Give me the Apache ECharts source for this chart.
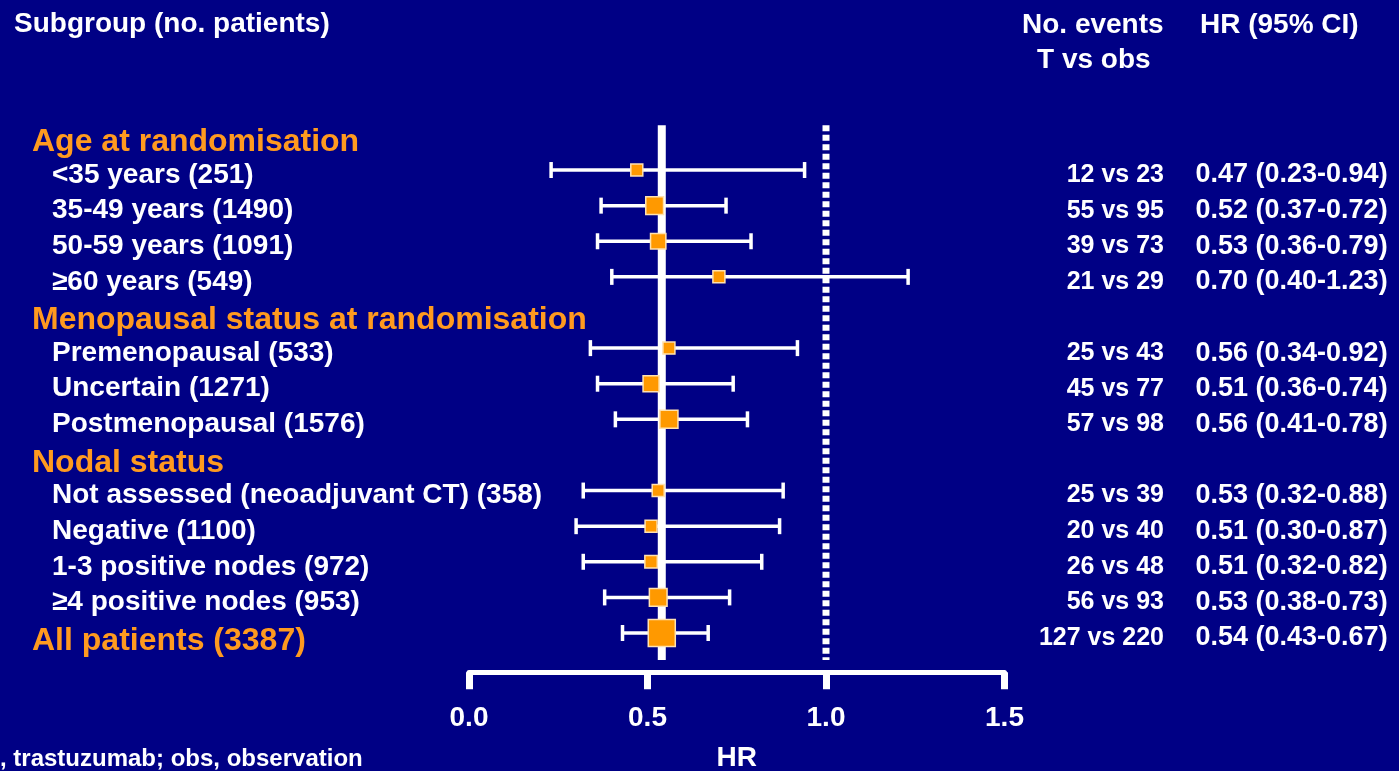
<!DOCTYPE html>
<html>
<head>
<meta charset="utf-8">
<title>Subgroup analysis — hazard ratios</title>
<script src="https://cdn.jsdelivr.net/npm/echarts@6/dist/echarts.min.js"></script>
<style>
  html, body { margin: 0; padding: 0; background: #000085; }
  #chart { width: 1399px; height: 771px; }
</style>
</head>
<body>
<div id="chart"></div>
<script>
// ---- data -----------------------------------------------------------
// One entry per row, top to bottom. Group headings carry no estimate.
const subgroups = [
  'Age at randomisation',
  '<35 years (251)',
  '35-49 years (1490)',
  '50-59 years (1091)',
  '\u226560 years (549)',
  'Menopausal status at randomisation',
  'Premenopausal (533)',
  'Uncertain (1271)',
  'Postmenopausal (1576)',
  'Nodal status',
  'Not assessed (neoadjuvant CT) (358)',
  'Negative (1100)',
  '1-3 positive nodes (972)',
  '\u22654 positive nodes (953)',
  'All patients (3387)'
];
const rowKind = ['group', 'item', 'item', 'item', 'item', 'group', 'item', 'item', 'item',
                 'group', 'item', 'item', 'item', 'item', 'total'];
const hazardRatio = [null, 0.47, 0.52, 0.53, 0.70, null, 0.56, 0.51, 0.56, null, 0.53, 0.51, 0.51, 0.53, 0.54];
const ciLower     = [null, 0.23, 0.37, 0.36, 0.40, null, 0.34, 0.36, 0.41, null, 0.32, 0.30, 0.32, 0.38, 0.43];
const ciUpper     = [null, 0.94, 0.72, 0.79, 1.23, null, 0.92, 0.74, 0.78, null, 0.88, 0.87, 0.82, 0.73, 0.67];
const eventsT     = [null, 12, 55, 39, 21, null, 25, 45, 57, null, 25, 20, 26, 56, 127];
const eventsObs   = [null, 23, 95, 73, 29, null, 43, 77, 98, null, 39, 40, 48, 93, 220];
const hrTicks     = [0, 0.5, 1.0, 1.5];
const overallRow  = 14;      // "All patients" row supplies the solid reference line
const nullEffect  = 1.0;     // no-difference line

// ---- styling ---------------------------------------------------------
const FONT = "'Liberation Sans', Arial, Helvetica, sans-serif";
const BG = '#000085';
const WHITE = '#ffffff';
const ORANGE = '#ff9a1f';
const BOX_FILL = '#ff9900';
const BOX_EDGE = '#ffe2b0';

const rows = subgroups.map((_, i) => i);
const estRows = rows.filter(i => hazardRatio[i] != null);
const fmt2 = v => v.toFixed(2);

// Box side grows with the number of events in the subgroup
const boxSize = i => Math.max(12, 1.45 * Math.sqrt(eventsT[i] + eventsObs[i]));

const yRange = { min: -1, max: 15.1 };
const baseY = {
  type: 'value', inverse: true, min: yRange.min, max: yRange.max, interval: 1,
  axisLine: { show: false }, axisTick: { show: false }, splitLine: { show: false }
};

const chart = echarts.init(document.getElementById('chart'));

const option = {
  backgroundColor: BG,
  animation: false,
  grid: { left: 469, right: 394.5, top: 98.8, bottom: 98.8, containLabel: false, outerBoundsMode: 'none' },
  xAxis: {
    type: 'value', min: hrTicks[0], max: hrTicks[hrTicks.length - 1], interval: 0.5,
    position: 'bottom',
    axisLine: { show: true, onZero: false, lineStyle: { color: WHITE, width: 5 } },
    axisTick: { show: true, inside: false, length: 17, lineStyle: { color: WHITE, width: 7 } },
    splitLine: { show: false },
    axisLabel: {
      color: WHITE, fontFamily: FONT, fontWeight: 'bold', fontSize: 28, margin: 32,
      formatter: v => v.toFixed(1)
    },
    name: 'HR', nameLocation: 'middle', nameGap: 72,
    nameTextStyle: { color: WHITE, fontFamily: FONT, fontWeight: 'bold', fontSize: 28 }
  },
  yAxis: [
    // subgroup names on the left
    Object.assign({}, baseY, {
      position: 'left',
      axisLabel: {
        align: 'left', margin: 437,
        formatter: v => {
          const lab = subgroups[v];
          if (lab == null) return '';
          return rowKind[v] === 'item' ? '{i|' + lab + '}' : '{g|' + lab + '}';
        },
        rich: {
          g: { color: ORANGE, fontFamily: FONT, fontWeight: 'bold', fontSize: 32, padding: [16, 0, 0, 0] },
          i: { color: WHITE, fontFamily: FONT, fontWeight: 'bold', fontSize: 28, padding: [10, 0, 0, 20] }
        }
      }
    }),
    // number of events, trastuzumab vs observation
    Object.assign({}, baseY, {
      position: 'right',
      axisLabel: {
        align: 'right', margin: 159.5,
        formatter: v => (eventsT[v] != null ? '{e|' + eventsT[v] + ' vs ' + eventsObs[v] + '}' : ''),
        rich: {
          e: { color: WHITE, fontFamily: FONT, fontWeight: 'bold', fontSize: 25, padding: [10, 0, 0, 0] }
        }
      }
    }),
    // HR with 95% CI
    Object.assign({}, baseY, {
      position: 'right',
      axisLabel: {
        align: 'left', margin: 191,
        formatter: v => (hazardRatio[v] != null
          ? '{h|' + fmt2(hazardRatio[v]) + ' (' + fmt2(ciLower[v]) + '-' + fmt2(ciUpper[v]) + ')}' : ''),
        rich: {
          h: { color: WHITE, fontFamily: FONT, fontWeight: 'bold', fontSize: 27, padding: [10, 0, 0, 0] }
        }
      }
    })
  ],
  series: [
    {
      // confidence-interval whiskers with end caps
      type: 'custom',
      name: '95% CI',
      yAxisIndex: 0,
      data: estRows.map(i => [ciLower[i], ciUpper[i], i]),
      renderItem: (params, api) => {
        const a = api.coord([api.value(0), api.value(2)]);
        const b = api.coord([api.value(1), api.value(2)]);
        const cap = 8;
        const st = { stroke: WHITE, lineWidth: 3.5 };
        return {
          type: 'group',
          children: [
            { type: 'line', shape: { x1: a[0], y1: a[1], x2: b[0], y2: b[1] }, style: st },
            { type: 'line', shape: { x1: a[0], y1: a[1] - cap, x2: a[0], y2: a[1] + cap }, style: st },
            { type: 'line', shape: { x1: b[0], y1: b[1] - cap, x2: b[0], y2: b[1] + cap }, style: st }
          ]
        };
      },
      z: 2
    },
    {
      // overall hazard ratio
      type: 'line',
      name: 'Overall HR',
      yAxisIndex: 0,
      data: [[hazardRatio[overallRow], -0.26], [hazardRatio[overallRow], 14.76]],
      symbol: 'none',
      lineStyle: { color: WHITE, width: 8 },
      z: 3
    },
    {
      // HR = 1 (no difference)
      type: 'line',
      name: 'No effect',
      yAxisIndex: 0,
      data: [[nullEffect, -0.26], [nullEffect, 14.76]],
      symbol: 'none',
      lineStyle: { color: WHITE, width: 7, type: [6, 3.5] },
      z: 3
    },
    {
      // point estimates
      type: 'scatter',
      name: 'HR',
      yAxisIndex: 0,
      data: estRows.map(i => [hazardRatio[i], i]),
      symbol: 'rect',
      symbolSize: (val) => boxSize(val[1]),
      itemStyle: { color: BOX_FILL, borderColor: BOX_EDGE, borderWidth: 1.5, opacity: 1 },
      z: 5
    }
  ],
  graphic: [
    { type: 'text', left: 14, top: 10,
      style: { text: 'Subgroup (no. patients)', fill: WHITE, font: 'bold 28px ' + FONT } },
    { type: 'text', left: 1022, top: 11,
      style: { text: 'No. events', fill: WHITE, font: 'bold 28px ' + FONT } },
    { type: 'text', left: 1037, top: 46,
      style: { text: 'T vs obs', fill: WHITE, font: 'bold 28px ' + FONT } },
    { type: 'text', left: 1200, top: 11,
      style: { text: 'HR (95% CI)', fill: WHITE, font: 'bold 28px ' + FONT } },
    { type: 'text', left: 0, top: 747,
      style: { text: ', trastuzumab; obs, observation', fill: WHITE, font: 'bold 24px ' + FONT } }
  ]
};

chart.setOption(option);
</script>
</body>
</html>
